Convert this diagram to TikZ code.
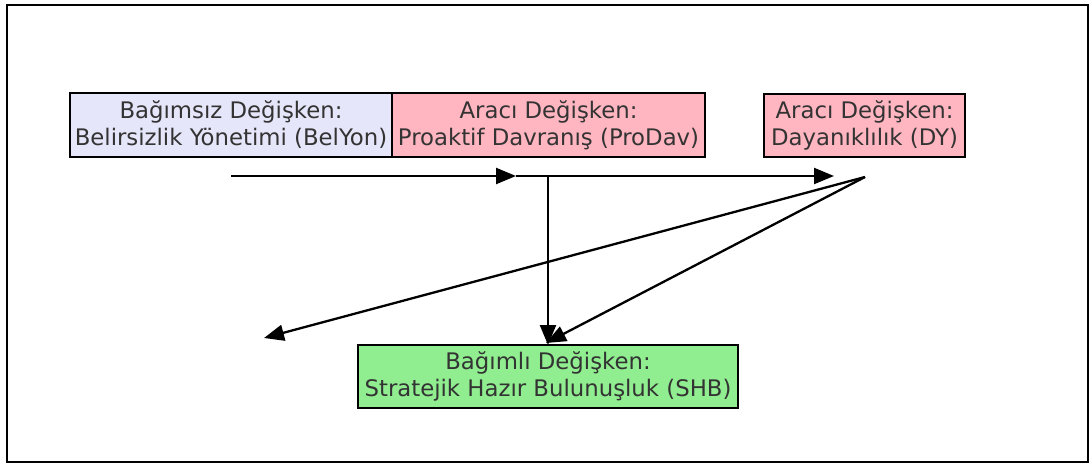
\documentclass[tikz,border=0pt]{standalone}
\usepackage{fontspec}
\setmainfont{DejaVu Sans}
\usetikzlibrary{arrows.meta}
\definecolor{lav}{HTML}{E6E6FA}
\definecolor{pinkbox}{HTML}{FFB6C1}
\definecolor{greenbox}{HTML}{90EE90}
\definecolor{txt}{HTML}{333333}
\begin{document}
\begin{tikzpicture}[x=1pt,y=-1pt,
  box/.style={draw=black, line width=1.7pt, align=center, text=txt, inner sep=0pt,
    font=\fontsize{22.8}{27}\selectfont},
  flow/.style={line width=2.3pt, -{Triangle[length=20pt,width=16pt]}}]
  \useasboundingbox (0,0) rectangle (1092,465);
  \draw[line width=2pt] (7,5) rectangle (1088,462);

  % variable boxes
  \node[box, fill=lav, minimum width=322pt, minimum height=64pt] (bel) at (231,125)
    {Bağımsız Değişken:\\Belirsizlik Yönetimi (BelYon)};
  \node[box, fill=pinkbox, minimum width=313pt, minimum height=64pt] (pro) at (548.5,125)
    {Aracı Değişken:\\Proaktif Davranış (ProDav)};
  \node[box, fill=pinkbox, minimum width=201pt, minimum height=63pt] (dy) at (864.5,125.5)
    {Aracı Değişken:\\Dayanıklılık (DY)};
  \node[box, fill=greenbox, minimum width=380pt, minimum height=63pt] (shb) at (548,376.5)
    {Bağımlı Değişken:\\Stratejik Hazır Bulunuşluk (SHB)};

  % arrow anchor points
  \coordinate (a0) at (231,176);
  \coordinate (a1) at (516,176);
  \coordinate (b0) at (548,176);
  \coordinate (b1) at (834,176);
  \coordinate (c0) at (865,177);
  \coordinate (c1) at (264,338);
  \coordinate (d1) at (546,343);
  \coordinate (e1) at (548,345);

  \draw[flow] (a0) -- (a1);
  \draw[flow] (a1) -- (b1);
  \draw[flow] (b0) -- (e1);
  \draw[flow] (c0) -- (c1);
  \draw[flow] (c0) -- (d1);
\end{tikzpicture}
\end{document}
